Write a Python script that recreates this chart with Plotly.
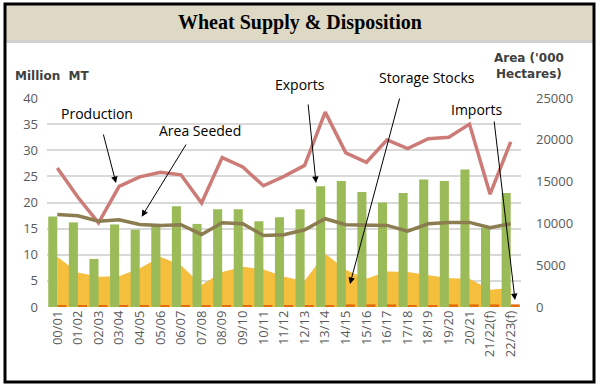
import plotly.graph_objects as go

categories = ["00/01","01/02","02/03","03/04","04/05","05/06","06/07","07/08","08/09","09/10",
              "10/11","11/12","12/13","13/14","14/15","15/16","16/17","17/18","18/19","19/20",
              "20/21","21/22(f)","22/23(f)"]
exports = [17.3,16.2,9.2,15.8,14.8,15.9,19.3,15.9,18.7,18.7,16.4,17.2,18.7,23.1,24.1,22.0,20.0,21.8,24.4,24.1,26.3,15.2,21.8]
imports = [0.2,0.2,0.3,0.2,0.2,0.2,0.2,0.2,0.2,0.2,0.2,0.2,0.2,0.2,0.5,0.5,0.5,0.3,0.3,0.5,0.5,0.5,0.5]
storage = [9.5,6.5,5.7,5.8,7.3,9.5,7.9,4.1,6.6,7.6,7.1,5.7,4.9,10.1,7.0,5.3,6.7,6.6,6.0,5.4,5.3,3.2,3.5]
production = [26.6,21.0,16.1,23.1,24.9,25.8,25.3,19.9,28.6,26.8,23.2,25.0,27.1,37.3,29.5,27.7,32.0,30.3,32.2,32.5,35.0,21.6,31.6]
area_seeded = [11070,10920,10270,10440,9880,9760,9840,8680,10080,9960,8560,8640,9240,10560,9840,9760,9760,9080,9960,10120,10120,9480,9960]
left_ticks = [0,5,10,15,20,25,30,35,40]
right_ticks = [0,5000,10000,15000,20000,25000]

W, H = 600, 389
L, R, T, B = 47, 521, 98, 307

def px(x):
    return (x - L) / (R - L)

def py(y):
    return (B - y) / (B - T)

fig = go.Figure()
fig.add_trace(go.Scatter(x=categories, y=storage, mode="lines", fill="tozeroy",
                         line=dict(color="#F5BE3C", width=1), fillcolor="#F5BE3C",
                         yaxis="y", name="Storage Stocks", hoverinfo="skip"))
fig.add_trace(go.Bar(x=categories, y=exports, marker=dict(color="#9BBB59", line=dict(width=0)),
                     yaxis="y2", name="Exports"))
fig.add_trace(go.Bar(x=categories, y=imports, marker=dict(color="#E46C0A", line=dict(width=0)),
                     yaxis="y2", name="Imports"))
fig.add_trace(go.Scatter(x=categories, y=production, mode="lines",
                         line=dict(color="#CD7B77", width=3.5), yaxis="y2", name="Production"))
fig.add_trace(go.Scatter(x=categories, y=area_seeded, mode="lines",
                         line=dict(color="#8B7D50", width=3.5), yaxis="y3", name="Area Seeded"))

tickfont = dict(family="Open Sans", size=13, color="#595959")

shapes = [
    dict(type="rect", xref="paper", yref="paper", x0=px(6), x1=px(593), y0=py(40), y1=py(4),
         fillcolor="#DDD9C4", line=dict(width=0), layer="below"),
    dict(type="line", xref="paper", yref="paper", x0=px(6), x1=px(593), y0=py(41.5), y1=py(41.5),
         line=dict(color="#D0D0D0", width=3)),
    dict(type="rect", xref="paper", yref="paper", x0=px(5), x1=px(594), y0=py(382), y1=py(4),
         line=dict(color="black", width=3)),
]

annotations = [
    dict(text="<b>Wheat Supply & Disposition</b>", x=px(300), y=py(22), xanchor="center",
         yanchor="middle", font=dict(family="Liberation Serif", size=20, color="black")),
    dict(text="<b>Million  MT</b>", x=px(13), y=py(76), xanchor="left", yanchor="middle",
         font=dict(family="DejaVu Sans", size=12, color="#404040")),
    dict(text="<b>Area ('000<br>Hectares)</b>", x=px(529), y=py(66), xanchor="center",
         yanchor="middle", font=dict(family="DejaVu Sans", size=12, color="#404040")),
]

labels = [("Production", 97, 113), ("Area Seeded", 200, 130), ("Exports", 300, 84),
          ("Storage Stocks", 427, 77), ("Imports", 477, 109)]
for t, x, y in labels:
    annotations.append(dict(text=t, x=px(x), y=py(y), xanchor="center", yanchor="middle",
                            font=dict(family="Open Sans", size=14, color="black")))
for a in annotations:
    a.update(xref="paper", yref="paper", showarrow=False)

arrows = [((116, 183), (103, 133)), ((141.7, 216.7), (187, 143)), ((316, 183), (308, 103)),
          ((350, 284), (400, 97)), ((515, 300), (494, 120))]
for (hx, hy), (tx, ty) in arrows:
    annotations.append(dict(text="", x=px(hx), y=py(hy), xref="paper", yref="paper",
                            ax=tx - hx, ay=ty - hy, showarrow=True, arrowhead=2, arrowsize=1.3,
                            arrowwidth=1, arrowcolor="black"))

fig.update_layout(
    width=W, height=H, margin=dict(l=L, r=W - R, t=T, b=H - B),
    paper_bgcolor="white", plot_bgcolor="white", showlegend=False,
    barmode="group", bargap=0.12, bargroupgap=0,
    xaxis=dict(type="category", tickangle=-90, tickfont=tickfont, showgrid=False,
               showline=False, ticks="", zeroline=False),
    yaxis=dict(range=[0, 40], tickvals=left_ticks, tickfont=tickfont, showgrid=True,
               gridcolor="#D9D9D9", gridwidth=1.5, zeroline=False, showline=False, ticks="",
               ticklabelstandoff=8),
    yaxis2=dict(range=[0, 40], overlaying="y", visible=False, showgrid=False),
    yaxis3=dict(range=[0, 25000], overlaying="y", side="right", tickvals=right_ticks,
                tickformat="d", tickfont=tickfont, showgrid=False, zeroline=False,
                showline=False, ticks="", ticklabelstandoff=14),
    shapes=shapes, annotations=annotations,
)

fig.write_html("out.html", config={"displayModeBar": False})

# remove the default page margin so the 600x389 figure fills the window exactly
with open("out.html", "r", encoding="utf-8") as f:
    html = f.read()
html = html.replace("<head>", "<head><style>html,body{margin:0;padding:0;overflow:hidden;}</style>", 1)
with open("out.html", "w", encoding="utf-8") as f:
    f.write(html)
